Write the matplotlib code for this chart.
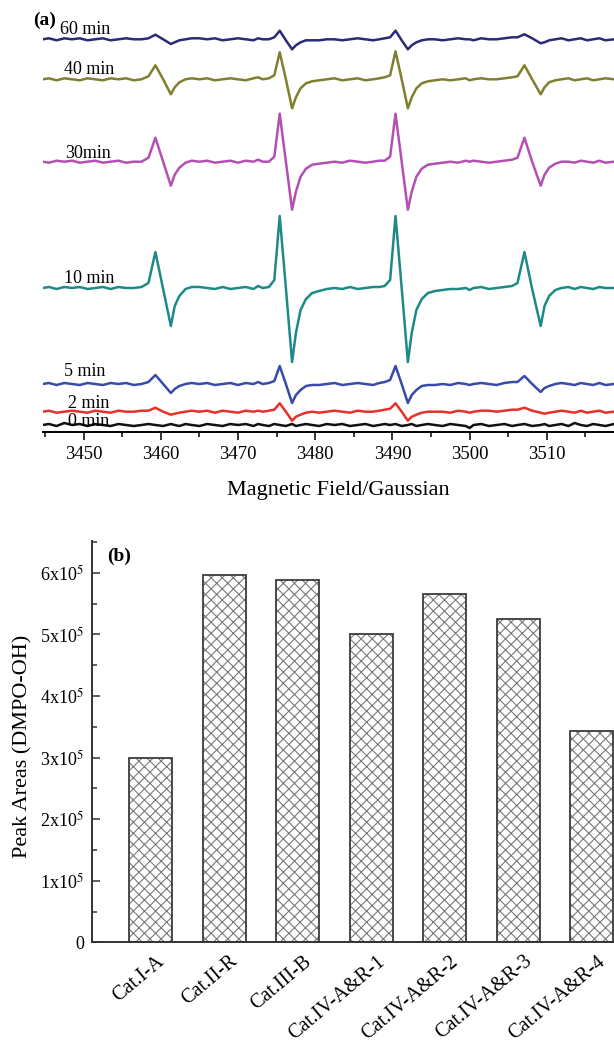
import matplotlib
matplotlib.use('Agg')
import matplotlib.pyplot as plt
import matplotlib.transforms as mtransforms
from matplotlib.ticker import MultipleLocator, FixedLocator, FixedFormatter

plt.rcParams['font.family'] = ['Liberation Serif', 'DejaVu Serif']
plt.rcParams['mathtext.fontset'] = 'stix'
plt.rcParams['hatch.linewidth'] = 0.8

# ---------------- panel (a): EPR spectra ----------------
FIELD = [3444.7, 3445.5, 3446.5, 3447.5, 3448.5, 3449.5, 3450.5, 3451.5, 3452.5, 3453.5, 3454.5, 3455.5, 3456.5, 3457.5,
         3458.4, 3459.3, 3460.3, 3461.3, 3461.8, 3462.4, 3463.2, 3464.0,
         3465.0, 3466.0, 3467.0, 3468.0, 3469.0, 3470.0, 3471.0, 3472.0, 3472.6, 3473.2, 3474.0,
         3474.7, 3475.4, 3476.2, 3477.0, 3477.5, 3478.1, 3478.8, 3479.6,
         3480.5, 3481.5, 3482.5, 3483.5, 3484.5, 3485.5, 3486.5, 3487.5, 3488.3, 3489.0,
         3489.7, 3490.4, 3491.2, 3492.0, 3492.5, 3493.1, 3493.8, 3494.6,
         3495.5, 3496.5, 3497.5, 3498.5, 3499.5, 3500.0, 3500.5, 3501.5, 3502.5, 3503.5, 3504.5, 3505.5,
         3506.2, 3507.1, 3508.1, 3509.2, 3509.7, 3510.3, 3511.1, 3511.9,
         3512.8, 3513.6, 3514.4, 3515.2, 3516.0, 3516.8, 3517.6, 3518.7]

I_60MIN = [0, 1, -1, 1, 0, 1, -1, 0, 1, -1, 0, 1, 0, 0,
           1, 4.6, 0, -4.7, -3, -1, 0, 1,
           1, 0, 1, -1, 0, 1, 0, -1, 1, 0, 0,
           2, 8.6, -1, -10, -6, -3, -1, -1,
           -1, 0, 0, -1, 0, 1, 0, -1, 0, 1,
           2, 8.6, -1, -10, -6, -3, -1, 0,
           0, -1, 0, 1, 0, 0, -1, 1, 0, 0, 1, 2,
           2, 5, 1, -4, -3, -1, 0, 1,
           -1, 0, 1, -1, 0, 1, -1, 0]

I_40MIN = [0, 1, -1, 1, 0, -1, 1, 0, -1, 1, 0, 1, -1, 0,
           3, 14, 0, -15, -8, -3, 0, 1,
           0, 1, -1, 0, 1, 0, -1, 1, 2, 0, 1,
           4, 27, 0, -29, -18, -9, -4, -2,
           -1, 0, 1, -1, 0, 1, -1, 0, 1, 2,
           4, 28, 0, -29, -18, -9, -4, -2,
           -1, 0, -1, 0, 1, -1, 0, 1, 0, 0, 1, 2,
           3, 14, 0, -15, -8, -3, -1, 0,
           1, -1, 0, 1, -1, 0, 1, 0]

I_30MIN = [0, -1, 1, 0, 1, -1, 0, 1, -1, 0, 1, -1, 0, 0,
           4, 24, 0, -24, -13, -6, -1, 1,
           0, 1, -1, 0, 1, -1, 1, 0, 2, 0, 0,
           5, 48, 0, -48, -30, -15, -7, -3,
           -2, -1, 0, -1, 1, 0, -1, 0, 1, 1,
           5, 48, 0, -48, -30, -15, -7, -3,
           -2, -1, 0, -1, 1, 0, 1, 0, -1, 0, 1, 2,
           4, 24, 0, -24, -13, -6, -2, 0,
           0, -1, 1, 0, -1, 1, -1, 0]

I_10MIN = [0, 1, -1, 1, 0, 1, -1, 0, 1, -1, 1, 0, 0, 1,
           5, 36, -1, -38, -18, -8, -1, 1,
           1, 0, -1, 1, -1, 0, 1, -1, 2, 0, 1,
           8, 72, 0, -74, -45, -22, -11, -5,
           -3, -1, 0, -1, 1, -1, 0, 1, 1, 2,
           8, 72, 0, -74, -45, -22, -11, -5,
           -3, -2, -1, -1, 0, -2, 0, 1, -1, 0, 1, 2,
           5, 36, -1, -38, -18, -8, -2, 0,
           1, -1, 1, 0, -1, 1, 0, 0]

I_5MIN = [0, 1, -1, 1, 0, -1, 1, 0, -1, 1, 0, 1, -1, 0,
          2, 9, 0, -9, -5, -2, 0, 1,
          0, 1, -1, 0, 1, -1, 1, 0, 2, 0, 1,
          3, 18, 0, -19, -11, -6, -2, -1,
          -1, 0, 1, -1, 0, 1, 0, -1, 1, 2,
          4, 18, 0, -19, -11, -6, -2, -1,
          -1, 0, -1, 1, 0, -1, 0, 1, 0, -1, 1, 2,
          2, 8, 0, -8, -4, -2, 0, 1,
          0, -1, 1, 0, -1, 1, -1, 0]

I_2MIN = [0, 1, -1, 0, 1, 0, -1, 1, 0, -1, 1, 0, 0, 1,
          1, 4, 0, -3, -2, -1, 0, 1,
          0, 1, -1, 1, 0, -1, 1, 0, 1, 0, 1,
          2, 8.4, 0, -9, -5, -3, -1, 0,
          -1, 0, 1, 0, -1, 1, 0, 0, 1, 2,
          3, 8.4, 0, -9, -5, -3, -1, 0,
          0, 0, -1, 1, 0, -1, 0, 1, 1, 0, 1, 2,
          2, 4, 1, -1, -2, -1, 0, 1,
          0, -1, 1, -1, 0, 1, -1, 0]

I_0MIN = [0, 1, -1, 2, 0, 1, -1, 1, 0, -1, 1, 0, -1, 0,
          1, 0, -1, 1, 0, -1, 1, 0,
          -1, 1, 0, -1, 1, 0, 1, -1, 1, 0, -1,
          1, 0, -1, 1, -1, 0, 1, 0,
          -1, 1, 0, 1, -1, 0, 1, -1, 0, 1,
          0, 1, -1, 0, 1, -1, 0, 1,
          0, -1, 1, 0, -1, -3, 0, 1, -1, 0, 1, -1,
          0, 1, -1, 0, 1, -1, 0, 1,
          -1, 2, 0, -1, 1, 0, -1, 1]

TIME_LABELS = ['60 min', '40 min', '30min', '10 min', '5 min', '2 min', '0 min']
SPECTRA = [I_60MIN, I_40MIN, I_30MIN, I_10MIN, I_5MIN, I_2MIN, I_0MIN]
OFFSETS = [392.4, 352.4, 270.0, 143.7, 47.7, 20.0, 6.7]
LINE_COLORS = ['#2b2a78', '#7f7f30', '#b44fb4', '#1d8a86', '#3a4aa8', '#e8302a', '#111111']
LABEL_X = [3447.0, 3447.4, 3447.6, 3447.4, 3447.4, 3448.0, 3448.0]
LABEL_Y = [397.4, 357.7, 273.4, 149.0, 55.7, 23.4, 5.7]

# ---------------- panel (b): bar chart ----------------
CATEGORIES = ['Cat.I-A', 'Cat.II-R', 'Cat.III-B', 'Cat.IV-A&R-1',
              'Cat.IV-A&R-2', 'Cat.IV-A&R-3', 'Cat.IV-A&R-4']
PEAK_AREAS = [3.0e5, 5.97e5, 5.88e5, 5.0e5, 5.66e5, 5.25e5, 3.43e5]
YTICKS = [0, 1e5, 2e5, 3e5, 4e5, 5e5, 6e5]
YTICK_LABELS = ['0', '1x10$^{5}$', '2x10$^{5}$', '3x10$^{5}$',
                '4x10$^{5}$', '5x10$^{5}$', '6x10$^{5}$']

W, H = 614, 1048
fig = plt.figure(figsize=(W / 100, H / 100), dpi=100)


def box(l, t, r, b):
    return [l / W, 1 - b / H, (r - l) / W, (b - t) / H]


ax1 = fig.add_axes(box(42.7, 0, 614, 431.7))
for lab, inten, off, col, lx, ly in zip(TIME_LABELS, SPECTRA, OFFSETS, LINE_COLORS, LABEL_X, LABEL_Y):
    assert len(inten) == len(FIELD)
    ax1.plot(FIELD, [off + v for v in inten], color=col, lw=1.8, solid_joinstyle='round')
    ax1.text(lx, ly, lab, fontsize=13, ha='left', va='baseline', color='black')
ax1.set_xlim(3444.7, 3518.7)
ax1.set_ylim(0, 431.7)
for s in ['left', 'right', 'top']:
    ax1.spines[s].set_visible(False)
ax1.spines['bottom'].set_linewidth(1.4)
ax1.set_yticks([])
ax1.xaxis.set_major_locator(MultipleLocator(10))
ax1.xaxis.set_minor_locator(MultipleLocator(5))
ax1.tick_params(axis='x', which='major', direction='out', length=6, width=1.1, labelsize=13.5, pad=4)
ax1.tick_params(axis='x', which='minor', direction='out', length=3.5, width=1.1)
fig.text(338 / W, 1 - 490 / H, 'Magnetic Field/Gaussian', fontsize=16, ha='center', va='center')
fig.text(33 / W, 1 - 25 / H, '(a)', fontsize=14, fontweight='bold', ha='left', va='baseline')

ax2 = fig.add_axes(box(92.3, 540.7, 614, 942.3))
xpos = list(range(len(CATEGORIES)))
ax2.bar(xpos, PEAK_AREAS, width=0.585, facecolor='white', edgecolor='#7a7a7a',
        hatch='xxx', linewidth=0)
ax2.bar(xpos, PEAK_AREAS, width=0.585, fill=False, edgecolor='#3c3c3c', linewidth=1.3)
ax2.set_xlim(-0.796, 6.30)
ax2.set_ylim(0, 6.52e5)
for s in ['right', 'top']:
    ax2.spines[s].set_visible(False)
for s in ['left', 'bottom']:
    ax2.spines[s].set_linewidth(1.4)
    ax2.spines[s].set_color('#333333')
ax2.yaxis.set_major_locator(FixedLocator(YTICKS))
ax2.yaxis.set_major_formatter(FixedFormatter(YTICK_LABELS))
ax2.yaxis.set_minor_locator(MultipleLocator(0.5e5))
ax2.tick_params(axis='y', which='major', direction='in', length=5.5, width=1.1,
                labelsize=13, pad=6, color='#333333')
ax2.tick_params(axis='y', which='minor', direction='in', length=3.5, width=1.1, color='#333333')
ax2.set_xticks(xpos)
ax2.set_xticklabels(CATEGORIES, rotation=40, ha='right', va='top', fontsize=14.5)
ax2.tick_params(axis='x', length=0, pad=7)
offset = mtransforms.ScaledTranslation(17 / 100, 0, fig.dpi_scale_trans)
for lbl in ax2.get_xticklabels():
    lbl.set_transform(lbl.get_transform() + offset)

fig.text(22.5 / W, 1 - 746 / H, 'Peak Areas (DMPO-OH)', fontsize=16, rotation=90,
         ha='center', va='center')
fig.text(107 / W, 1 - 561 / H, '(b)', fontsize=14, fontweight='bold', ha='left', va='baseline')

fig.savefig('out.png', dpi=100)
